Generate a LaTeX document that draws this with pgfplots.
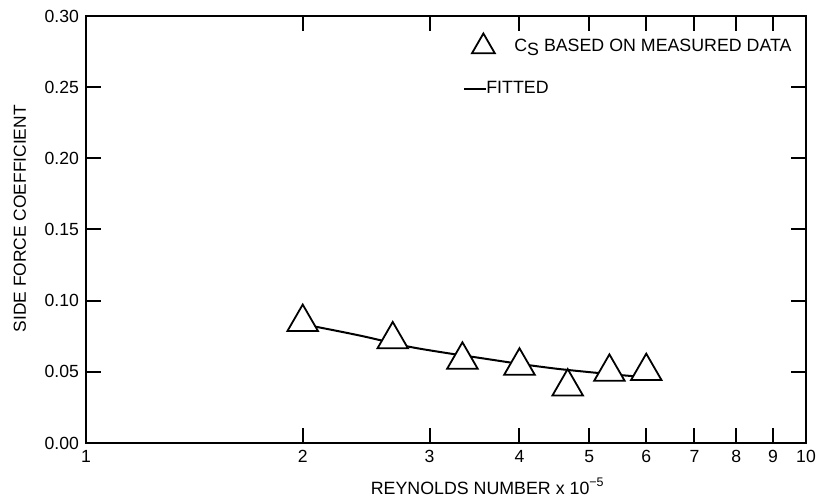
\documentclass[border=0pt]{standalone}
\usepackage{pgfplots}
\pgfplotsset{compat=1.18}
\usepackage{fontspec}
\setmainfont{Liberation Sans}
\begin{document}
\begin{tikzpicture}
\useasboundingbox (-43pt,-26.5pt) rectangle (369pt,221.5pt);
\begin{semilogxaxis}[
  scale only axis, width=360pt, height=213.5pt,
  xmin=1, xmax=10, ymin=0, ymax=0.30,
  xtick={1,2,3,4,5,6,7,8,9,10},
  xticklabels={1,2,3,4,5,6,7,8,9,10},
  minor xtick={},
  ytick={0,0.05,0.10,0.15,0.20,0.25,0.30},
  yticklabel style={/pgf/number format/.cd, fixed, fixed zerofill, precision=2},
  /pgf/number format/assume math mode=true,
  tick label style={font=\fontsize{8.8}{10}\selectfont},
  major tick length=7.5pt,
  tick style={black, line width=1pt},
  axis line style={line width=1.15pt},
  xlabel={REYNOLDS NUMBER x 10\textsuperscript{−5}},
  xlabel style={at={(axis description cs:0.558,-0.1007)}, anchor=center, font=\fontsize{8.9}{10}\selectfont},
  ylabel={SIDE FORCE COEFFICIENT},
  ylabel style={at={(axis description cs:-0.0917,0.525)}, anchor=center, font=\fontsize{8.7}{10}\selectfont},
  reverse legend,
  legend cell align=left,
  legend style={at={(axis description cs:0.5236,0.960)}, anchor=north west, draw=none, fill=none,
    inner sep=0pt, row sep=13.5pt, nodes={inner xsep=0pt, inner ysep=0pt, font=\fontsize{8.9}{10}\selectfont}},
]
\addplot[black, line width=1pt, smooth, mark=none,
  legend image code/.code={\draw[black,line width=1pt] (-1pt,0pt) -- (10pt,0pt);}]
  coordinates {(2,0.0835) (2.4,0.0755) (2.8,0.0678) (3.17,0.0632) (3.5,0.0600) (4.0,0.0556) (4.5,0.0522) (5.0,0.0498) (5.5,0.0478) (6.0,0.0462)};
\addlegendentry{\hspace{-4.25pt}FITTED}
\addplot[only marks, mark=triangle*, mark size=8.8pt, mark options={fill=white, draw=black, line width=0.9pt},
  legend image code/.code={\path[draw=black,fill=white,line width=0.8pt,mark size=6.6pt] plot[mark=triangle*] coordinates {(8.5pt,0pt)};}]
  coordinates {(2,0.0849) (2.667,0.0727) (3.333,0.0584) (4,0.0542) (4.667,0.0396) (5.333,0.0499) (6,0.0504)};
\addlegendentry{\hspace{9.75pt}C\raisebox{-0.45ex}{S} BASED ON MEASURED DATA}
\end{semilogxaxis}
\end{tikzpicture}
\end{document}
